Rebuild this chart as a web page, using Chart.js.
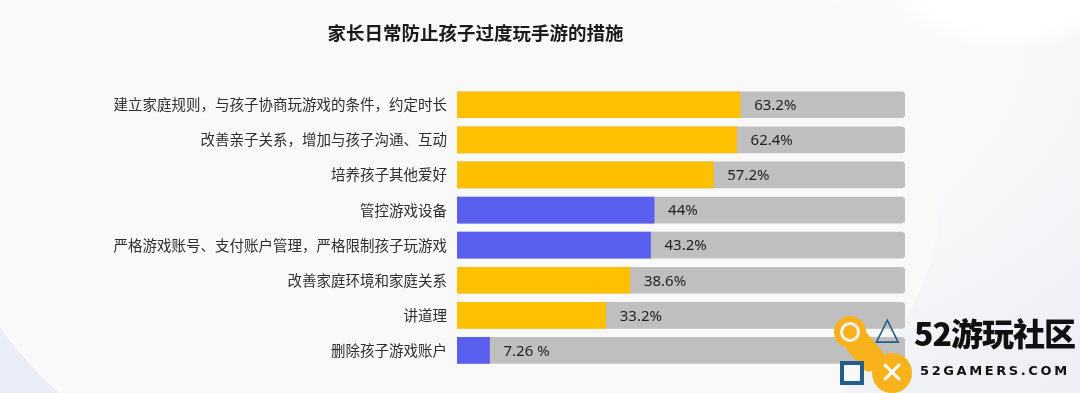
<!DOCTYPE html>
<html>
<head>
<meta charset="utf-8">
<script src="https://cdn.jsdelivr.net/npm/chart.js@4"></script>
<style>
  html, body { margin: 0; padding: 0; }
  body {
    width: 1080px; height: 393px; overflow: hidden; position: relative;
    background:
      radial-gradient(ellipse 120px 60px at 1010px -10px, #ffffff 70%, rgba(255,255,255,0) 100%),
      radial-gradient(ellipse 720px 420px at 560px 40px, #fafafb 55%, rgba(250,250,251,0) 100%),
      linear-gradient(135deg, #f7f7f8 0%, #f4f3f6 50%, #eef0f6 100%);
  }
  .curve {
    position: absolute; left: -260px; top: 80px; width: 700px; height: 520px;
    border-radius: 50%; background: #e8edf7; z-index: 0;
  }
  .curve2 {
    position: absolute; left: -40px; top: -120px; width: 980px; height: 640px;
    border-radius: 50%; background: #f9f9fa; z-index: 0;
  }
  #wrap { position: absolute; left: 0; top: 0; width: 950px; height: 393px; z-index: 1; }
  .logo { position: absolute; left: 830px; top: 305px; width: 250px; height: 88px; z-index: 2; }
  .link { position: absolute; left: 22px; top: 26px; width: 26px; height: 40px; background: #f9b21c; transform: rotate(-40deg); border-radius: 8px; }
  .ring { position: absolute; left: 4px; top: 11px; width: 20px; height: 20px; border: 6px solid #f9b21c; border-radius: 50%; background: #f4f4f6; }
  .ring::after { content: ''; position: absolute; left: 3px; top: 3px; width: 14px; height: 14px; border-radius: 50%; background: #f9b21c; }
  .ball { position: absolute; left: 42px; top: 48px; width: 40px; height: 40px; border-radius: 50%; background: #f9b21c; color: #fff; font: bold 30px 'DejaVu Sans'; text-align: center; line-height: 40px; }
  .tri { position: absolute; left: 45px; top: 4px; color: #235e8a; font: bold 32px 'DejaVu Sans'; }
  .sq { position: absolute; left: 10px; top: 56px; width: 16px; height: 16px; border: 4px solid #235e8a; }
  .brand { position: absolute; left: 84px; top: 4px; font: 900 32px 'Noto Sans CJK SC'; color: #111; letter-spacing: -1px; }
  .site { position: absolute; left: 90px; top: 58px; font: bold 13px 'DejaVu Sans'; color: #111; letter-spacing: 2.6px; }
</style>
</head>
<body>
<div class="curve"></div>
<div class="curve2"></div>
<div id="wrap"><canvas id="measuresChart"></canvas></div>
<div class="logo">
  <div class="link"></div>
  <div class="ring"></div>
  <div class="tri">△</div>
  <div class="sq"></div>
  <div class="ball">✕</div>
  <div class="brand">52游玩社区</div>
  <div class="site">52GAMERS.COM</div>
</div>
<script>
const titleText = '家长日常防止孩子过度玩手游的措施';
const categories = [
    '建立家庭规则，与孩子协商玩游戏的条件，约定时长',
    '改善亲子关系，增加与孩子沟通、互动',
    '培养孩子其他爱好',
    '管控游戏设备',
    '严格游戏账号、支付账户管理，严格限制孩子玩游戏',
    '改善家庭环境和家庭关系',
    '讲道理',
    '删除孩子游戏账户'
];
const values = [63.2, 62.4, 57.2, 44, 43.2, 38.6, 33.2, 7.26];
const valueLabels = ['63.2%', '62.4%', '57.2%', '44%', '43.2%', '38.6%', '33.2%', '7.26 %'];
const trackValues = [100, 100, 100, 100, 100, 100, 100, 100];

const yellow = '#FFC000';
const blue = '#5B5FEF';
const barColors = [yellow, yellow, yellow, blue, blue, yellow, yellow, blue];

// write the percentage just right of each coloured bar
const valueLabelPlugin = {
    id: 'valueLabels',
    afterDatasetsDraw(chart) {
        const ctx = chart.ctx;
        const meta = chart.getDatasetMeta(0);
        ctx.save();
        ctx.font = "15px 'Noto Sans', 'Noto Sans CJK SC', sans-serif";
        ctx.fillStyle = '#1f1f1f';
        ctx.textAlign = 'left';
        ctx.textBaseline = 'middle';
        meta.data.forEach((bar, i) => {
            ctx.fillText(valueLabels[i], bar.x + 14, bar.y + 1);
        });
        ctx.restore();
    }
};

document.addEventListener('DOMContentLoaded', () => {
    const el = document.getElementById('measuresChart');
    new Chart(el.getContext('2d'), {
        type: 'bar',
        data: {
            labels: categories,
            datasets: [
                {
                    data: values,
                    backgroundColor: barColors,
                    borderWidth: 0,
                    barThickness: 26,
                    grouped: false,
                    order: 0
                },
                {
                    data: trackValues,
                    backgroundColor: '#BFBFBF',
                    borderWidth: 0,
                    borderRadius: 4,
                    barThickness: 26,
                    grouped: false,
                    order: 1
                }
            ]
        },
        options: {
            indexAxis: 'y',
            responsive: true,
            maintainAspectRatio: false,
            animation: false,
            layout: { padding: { left: 46, right: 45, top: 0, bottom: 25 } },
            plugins: {
                legend: { display: false },
                tooltip: { enabled: false },
                title: {
                    display: true,
                    text: titleText,
                    color: '#1a1a1a',
                    font: { family: "'Noto Sans CJK SC'", size: 18.5, weight: 'bold' },
                    padding: { top: 22, bottom: 43 }
                }
            },
            scales: {
                x: { min: 0, max: 100, display: false },
                y: {
                    grid: { display: false },
                    border: { display: false },
                    ticks: {
                        color: '#2e2e2e',
                        padding: 2,
                        font: { family: "'Noto Sans CJK SC'", size: 14.5 }
                    },
                    afterFit(scale) { scale.width = 411; }
                }
            }
        },
        plugins: [valueLabelPlugin]
    });
});
</script>
</body>
</html>
